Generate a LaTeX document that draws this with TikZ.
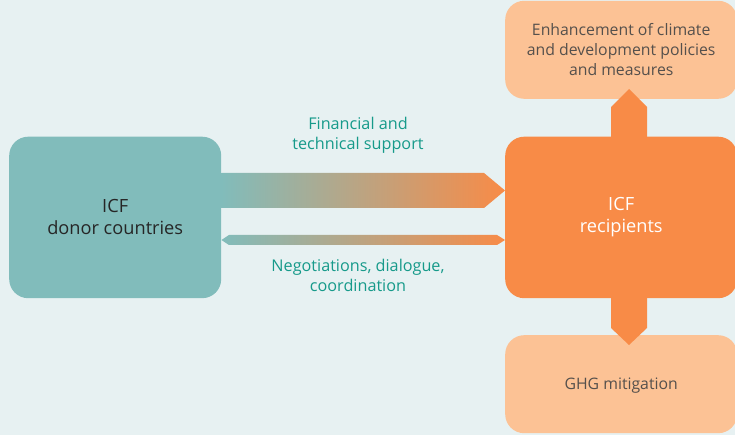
\documentclass[tikz,border=0pt]{standalone}
\usepackage{fontspec}
\setmainfont{Open Sans}
\usetikzlibrary{calc}
\definecolor{bgc}{HTML}{E7F1F2}
\definecolor{teal}{HTML}{81BCBB}
\definecolor{orng}{HTML}{F88B47}
\definecolor{peach}{HTML}{FCC295}
\definecolor{lbl}{HTML}{169A8A}
\definecolor{dark}{HTML}{55504C}
\tikzset{
  box/.style={rounded corners=19pt,inner sep=0pt,align=center,anchor=north west},
  donorbox/.style={box,fill=teal,text=black!85,minimum width=212pt,minimum height=161.5pt,font=\fontsize{18.2}{22}\selectfont},
  recbox/.style={box,fill=orng,text=white,minimum width=232pt,minimum height=161.5pt,font=\fontsize{18.2}{22}\selectfont},
  outbox/.style={box,fill=peach,text=dark,minimum width=232pt,minimum height=98pt,font=\fontsize{15.8}{20}\selectfont},
  lab/.style={text=lbl,align=center,font=\fontsize{16.2}{20}\selectfont,inner sep=0pt},
  uparrow/.style={fill=orng}
}
\begin{document}
\begin{tikzpicture}[x=1pt,y=-1pt]
\useasboundingbox (0,0) rectangle (735,435);
\fill[bgc] (0,0) rectangle (735,435);
\node[donorbox] (donor) at (9,136.5) {ICF\\donor countries};
\node[recbox] (rec) at (505,136.5) {ICF\\recipients};
\node[outbox] (top) at (505,0.6) {Enhancement of climate\\and development policies\\and measures};
\node[outbox,text depth=0.5pt] (bot) at (505,335) {GHG mitigation};
\coordinate (rtop) at (629,139);
\coordinate (rbot) at (629,296);
\shade[left color=teal,right color=orng]
  (donor.east |- 0,173) -- (484,173) -- (rec.west |- 0,190.5) -- (484,208) -- (donor.east |- 0,208) -- cycle;
\shade[left color=teal,right color=orng]
  (donor.east |- 0,240) -- (229,235) -- (497,235) -- (rec.west |- 0,240) -- (497,245) -- (229,245) -- cycle;
\fill[uparrow] ($(rtop)+(-18,0)$) -- ($(rtop)+(-18,-32)$) -- (629,89) -- ($(rtop)+(18,-32)$) -- ($(rtop)+(18,0)$) -- cycle;
\fill[uparrow] ($(rbot)+(-18,0)$) -- ($(rbot)+(-18,32)$) -- (629,345) -- ($(rbot)+(18,32)$) -- ($(rbot)+(18,0)$) -- cycle;
\node[lab] (l1) at (358,135.5) {Financial and\\technical support};
\node[lab] (l2) at (358,275) {Negotiations, dialogue,\\coordination};
\end{tikzpicture}
\end{document}
